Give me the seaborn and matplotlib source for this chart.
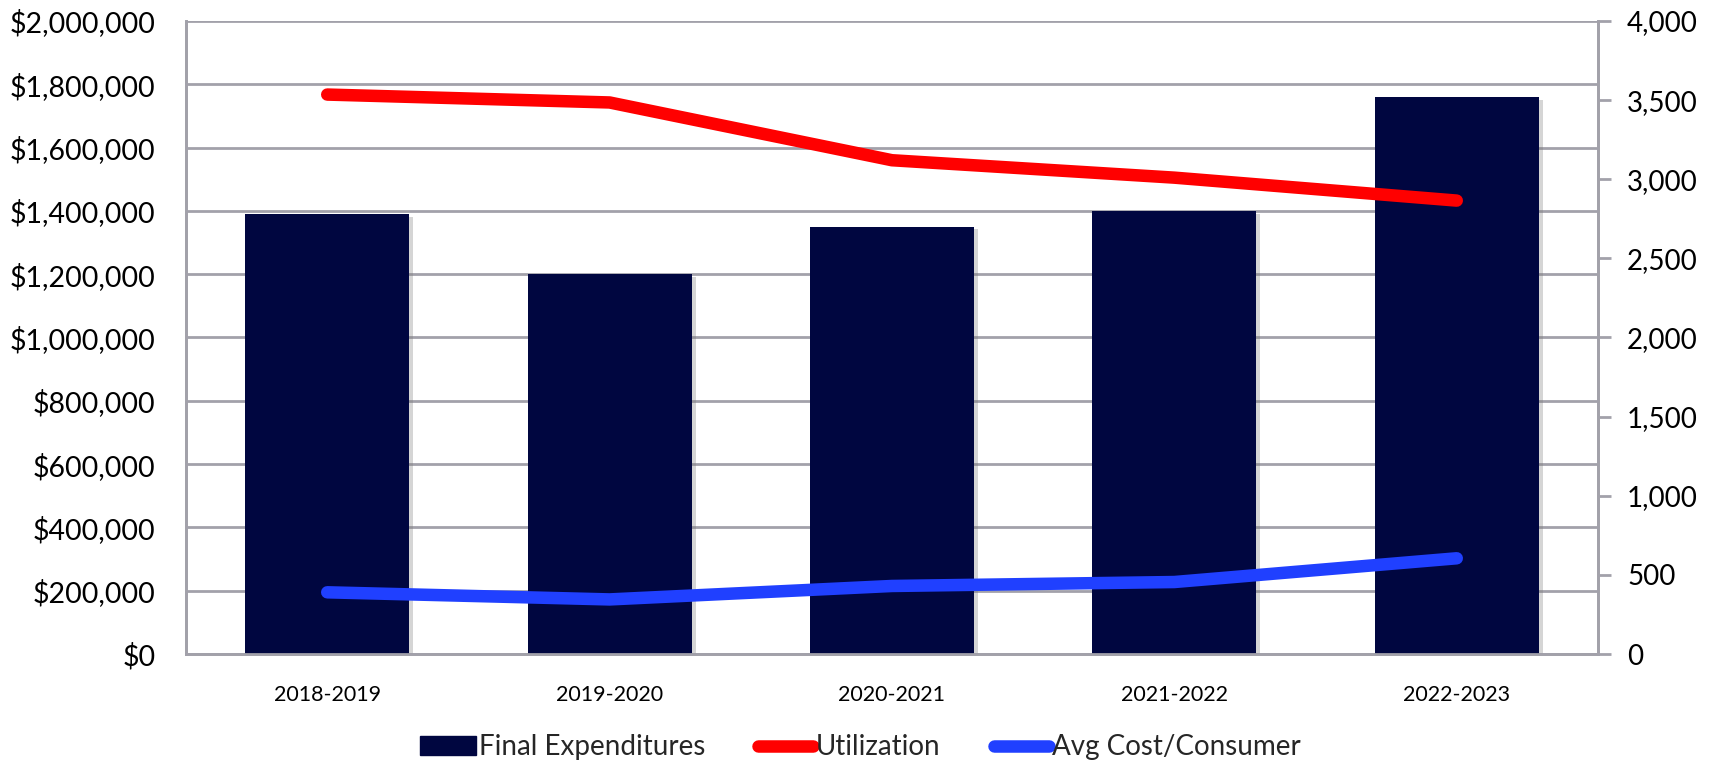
import matplotlib
matplotlib.use("Agg")
import matplotlib.pyplot as plt
import matplotlib.patheffects as pe
from matplotlib.patches import Patch
from matplotlib.lines import Line2D
from matplotlib.ticker import FuncFormatter, MultipleLocator
import seaborn as sns
import pandas as pd

years = ["2018-2019", "2019-2020", "2020-2021", "2021-2022", "2022-2023"]
final_expenditures = [1390000, 1200000, 1350000, 1400000, 1760000]
utilization = [3535, 3485, 3120, 3010, 2865]
avg_cost_per_consumer = [390, 345, 430, 455, 605]

sns.set_theme(style="white")
plt.rcParams["font.family"] = ["Lato", "DejaVu Sans"]

BAR = "#000640"
RED = "#FF0000"
BLUE = "#2040FF"
GRID = "#A2A1AA"

fig = plt.figure(figsize=(17.21, 7.68), dpi=100)
ax = fig.add_axes([0.1081, 0.1484, 0.8204, 0.8243])

df = pd.DataFrame({"year": years, "exp": final_expenditures,
                   "util": utilization, "avg": avg_cost_per_consumer})

sns.barplot(data=df, x="year", y="exp", color=BAR, saturation=1, width=0.58,
            ax=ax, zorder=3, linewidth=0)
for p in ax.patches:
    p.set_path_effects([pe.SimplePatchShadow(offset=(3, -2), shadow_rgbFace="#777777", alpha=0.3), pe.Normal()])

ax.set_ylim(0, 2000000)
ax.yaxis.set_major_locator(MultipleLocator(200000))
ax.yaxis.set_major_formatter(FuncFormatter(lambda v, _: f"${v:,.0f}"))
ax.grid(axis="y", color=GRID, linewidth=2, zorder=0)
ax.set_axisbelow(True)
ax.set_xlabel("")
ax.set_ylabel("")
ax.tick_params(axis="y", length=0, pad=22, labelsize=20.5, colors="black")
ax.tick_params(axis="x", length=0, pad=22, labelsize=15.5, colors="black")
for s in ["left", "bottom", "right", "top"]:
    ax.spines[s].set_color(GRID)
    ax.spines[s].set_linewidth(2)
ax.spines["top"].set_visible(False)

ax2 = ax.twinx()
sns.lineplot(data=df, x="year", y="util", color=RED, linewidth=9,
             solid_capstyle="round", ax=ax2, zorder=5)
sns.lineplot(data=df, x="year", y="avg", color=BLUE, linewidth=9,
             solid_capstyle="round", ax=ax2, zorder=5)
ax2.set_ylim(0, 4000)
ax2.yaxis.set_major_locator(MultipleLocator(500))
ax2.yaxis.set_major_formatter(FuncFormatter(lambda v, _: f"{v:,.0f}"))
ax2.set_ylabel("")
ax2.set_xlabel("")
ax2.tick_params(axis="y", length=9, width=2, pad=12, labelsize=20,
                colors="black")
ax2.tick_params(axis="y", color=GRID)
for s in ["left", "bottom", "right", "top"]:
    ax2.spines[s].set_color(GRID)
    ax2.spines[s].set_linewidth(2)
ax2.spines["top"].set_visible(False)
ax2.set_xlim(-0.5, 4.5)

handles = [Patch(facecolor=BAR, edgecolor=BAR),
           Line2D([0], [0], color=RED, linewidth=9, solid_capstyle="round"),
           Line2D([0], [0], color=BLUE, linewidth=9, solid_capstyle="round")]
labels = ["Final Expenditures", "Utilization", "Avg Cost/Consumer"]
fig.legend(handles, labels, loc="center", bbox_to_anchor=(0.500, 0.027), ncol=3,
           frameon=False, handlelength=2.0, handletextpad=0.1,
           columnspacing=1.9, prop={"family": ["Lato", "DejaVu Sans"], "size": 20})

fig.savefig("out.png", dpi=100)
